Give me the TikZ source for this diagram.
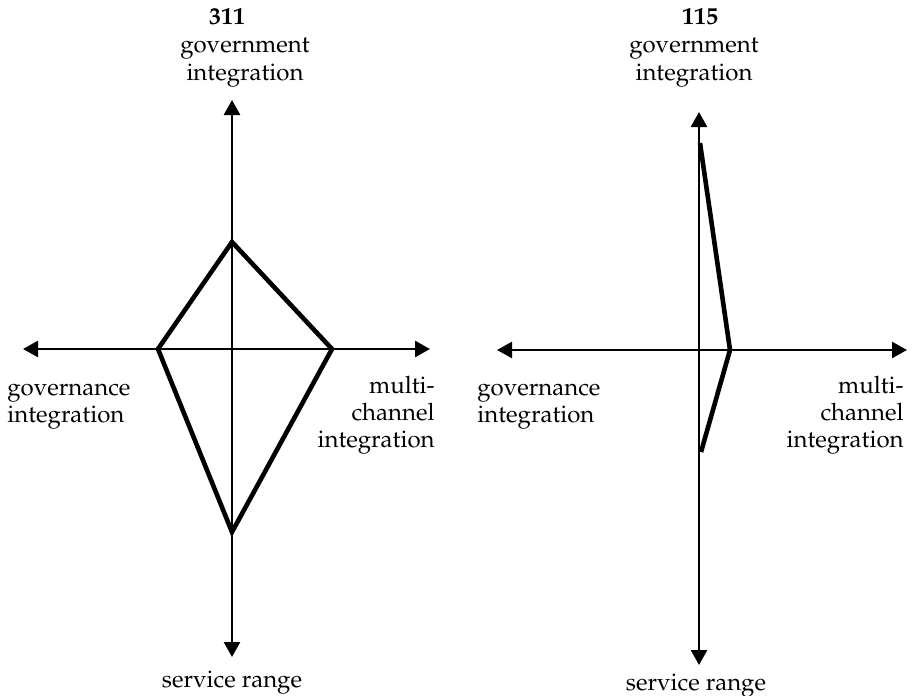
\documentclass[tikz,border=0pt]{standalone}
\usepackage[T1]{fontenc}
\usepackage{mathpazo}
\usetikzlibrary{arrows.meta}

\begin{document}
\begin{tikzpicture}
[x=0.5pt,y=-0.5pt,%
  axisArrow/.style={{Triangle[length=7.5pt,width=8pt]}-{Triangle[length=7.5pt,width=8pt]},line width=1.3pt},%
  profileLine/.style={line width=2.3pt,line join=miter},%
  axisLabel/.style={inner sep=0pt,font=\fontsize{12}{13.5}\selectfont}]
\useasboundingbox (0,0) rectangle (916,696);
%% axis ends and profile corners
\foreach \ptname/\x/\y in {aTop/232/100, aBot/232/657, aLeft/23/349, aRight/430/349,
  aN/232/242, aE/332/349, aS/232/532, aW/158/349,
  bTop/699/112, bBot/699/665, bLeft/497/350, bRight/907/350,
  bN/700/143, bE/730/350, bS/701/452}
{
  \coordinate (\ptname) at (\x,\y);
}
%% labels, first profile (base = last line)
\node (aScore) at (227,25) [axisLabel,anchor=base] {\bfseries 311};
\node (aGovt) at (245,80) [axisLabel,anchor=base,align=center] {government\\integration};
\node (aGovn) at (7,422) [axisLabel,anchor=base west,align=left] {governance\\integration};
\node (aMulti) at (435,447) [axisLabel,anchor=base east,align=right] {multi-\\channel\\integration};
\node (aServ) at (232,687) [axisLabel,anchor=base] {service range};
%% labels, second profile
\node (bScore) at (700,25) [axisLabel,anchor=base] {\bfseries 115};
\node (bGovt) at (694,80) [axisLabel,anchor=base,align=center] {government\\integration};
\node (bGovn) at (477,422) [axisLabel,anchor=base west,align=left] {governance\\integration};
\node (bMulti) at (904,447) [axisLabel,anchor=base east,align=right] {multi-\\channel\\integration};
\node (bServ) at (696,690) [axisLabel,anchor=base] {service range};
%% axes
\foreach \startnode/\endnode in {aTop/aBot, aLeft/aRight, bTop/bBot, bLeft/bRight}
{
  \draw[axisArrow] (\startnode) -- (\endnode);
}
%% profiles
\draw[profileLine] (aN) -- (aE) -- (aS) -- (aW) -- cycle;
\draw[profileLine] (bN) -- (bE) -- (bS);
\end{tikzpicture}
\end{document}
